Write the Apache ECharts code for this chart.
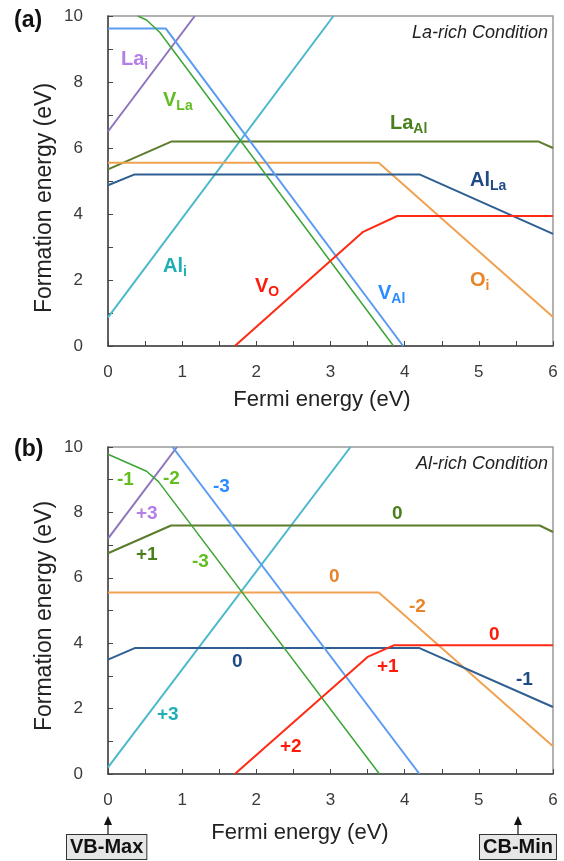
<!DOCTYPE html>
<html lang="en">
  <head>
    <meta charset="UTF-8" />
    <title>Formation energy vs Fermi energy</title>
    <script src="https://cdn.jsdelivr.net/npm/echarts@6.0.0/dist/echarts.min.js"></script>
    <style>
      html, body { margin: 0; padding: 0; background: #fff; }
    </style>
  </head>
  <body>
    <div id="main" style="width: 564px; height: 861px"></div>
    <script type="text/javascript">
      // x ticks / y ticks
      const xTicks = [0, 1, 2, 3, 4, 5, 6];
      const yTicks = [0, 2, 4, 6, 8, 10];

      // (a) La-rich condition, [Fermi energy, formation energy]
      const laI_a = [[0, 6.5], [1.17, 10]];
      const vLa_a = [[0.4, 10], [0.52, 9.88], [0.7, 9.5], [3.85, 0]];
      const vAl_a = [[0, 9.62], [0.78, 9.62], [3.98, 0]];
      const laAl_a = [[0, 5.35], [0.86, 6.2], [5.8, 6.2], [6, 6.0]];
      const alLa_a = [[0, 4.87], [0.36, 5.2], [4.2, 5.2], [6, 3.4]];
      const oI_a = [[0, 5.55], [3.65, 5.55], [6, 0.88]];
      const vO_a = [[1.71, 0], [3.44, 3.46], [3.9, 3.94], [6, 3.94]];
      const alI_a = [[0, 0.87], [3.04, 10]];

      // (b) Al-rich condition
      const laI_b = [[0, 7.2], [0.93, 10]];
      const vLa_b = [[0, 9.78], [0.52, 9.26], [0.68, 8.94], [3.66, 0]];
      const vAl_b = [[0.87, 10], [4.2, 0]];
      const laAl_b = [[0, 6.75], [0.85, 7.6], [5.82, 7.6], [6, 7.4]];
      const alLa_b = [[0, 3.5], [0.36, 3.85], [4.2, 3.85], [6, 2.05]];
      const oI_b = [[0, 5.55], [3.65, 5.55], [6, 0.85]];
      const vO_b = [[1.71, 0], [3.5, 3.58], [3.86, 3.94], [6, 3.94]];
      const alI_b = [[0, 0.2], [3.27, 10]];

      const FONT = 'Liberation Sans, Arial, sans-serif';
      const C = {
        laI: '#8f74bd', vLa: '#3ca535', vAl: '#5a9bf2', laAl: '#5b7d2c',
        alLa: '#2e5f92', oI: '#f0a252', vO: '#ff2a14', alI: '#4cb8cc'
      };
      const L = {
        laI: '#b37ee6', vLa: '#62bd22', vAl: '#2a8bff', laAl: '#4a7f1e',
        alLa: '#1e4b85', oI: '#e8842a', vO: '#ff1a0a', alI: '#1eaeb4'
      };

      const container = document.getElementById('main');
      const myChart = echarts.init(container, null, { width: 564, height: 861 });

      const makeX = (gridIndex) => ({
        type: 'value', gridIndex, min: 0, max: 6, interval: 1,
        axisLine: { lineStyle: { color: '#444', width: 1.5 } },
        axisTick: { inside: true, length: 5, lineStyle: { color: '#444' } },
        minorTick: { show: true, splitNumber: 2, length: 5, lineStyle: { color: '#444' } },
        splitLine: { show: false },
        axisLabel: { color: '#3a3a3a', fontSize: 17, fontFamily: FONT, margin: 18,
          formatter: (v) => (xTicks.includes(v) ? String(v) : '') }
      });
      const makeY = (gridIndex) => ({
        type: 'value', gridIndex, min: 0, max: 10, interval: 2,
        axisLine: { show: true, lineStyle: { color: '#444', width: 1.5 } },
        axisTick: { show: true, inside: true, length: 5, lineStyle: { color: '#444' } },
        minorTick: { show: true, splitNumber: 2, length: 5, lineStyle: { color: '#444' } },
        splitLine: { show: false },
        axisLabel: { color: '#3a3a3a', fontSize: 17, fontFamily: FONT, margin: 25,
          formatter: (v) => (yTicks.includes(v) ? String(v) : '') }
      });

      const line = (data, color, idx, width = 2) => ({
        type: 'line', data, xAxisIndex: idx, yAxisIndex: idx,
        symbol: 'none', clip: true, silent: true,
        lineStyle: { color, width }
      });

      const seriesA = [
        line(alI_a, C.alI, 0), line(laI_a, C.laI, 0), line(laAl_a, C.laAl, 0),
        line(oI_a, C.oI, 0), line(alLa_a, C.alLa, 0), line(vAl_a, C.vAl, 0),
        line(vLa_a, C.vLa, 0, 1.5), line(vO_a, C.vO, 0)
      ];
      const seriesB = [
        line(alI_b, C.alI, 1), line(laI_b, C.laI, 1), line(laAl_b, C.laAl, 1),
        line(oI_b, C.oI, 1), line(alLa_b, C.alLa, 1), line(vAl_b, C.vAl, 1),
        line(vLa_b, C.vLa, 1, 1.5), line(vO_b, C.vO, 1)
      ];

      // subscripted defect names
      const rich = {
        m: { fontSize: 20, fontWeight: 'bold', fontFamily: FONT },
        s: { fontSize: 14, fontWeight: 'bold', fontFamily: FONT, padding: [12, 0, 0, 0] }
      };
      const sub = (x, y, main, s, fill) => ({
        type: 'text', x, y, silent: true,
        style: { text: '{m|' + main + '}{s|' + s + '}', fill, rich: {
          m: Object.assign({ fill }, rich.m), s: Object.assign({ fill }, rich.s) } }
      });
      const chg = (x, y, text, fill) => ({
        type: 'text', x, y, silent: true,
        style: { text, fill, font: 'bold 19px ' + FONT }
      });
      const plain = (x, y, text, font, extra = {}) => ({
        type: 'text', x, y, silent: true,
        style: Object.assign({ text, fill: '#222', font }, extra)
      });

      const option = {
        animation: false,
        backgroundColor: '#fff',
        grid: [
          { left: 108, top: 16, width: 445, height: 330, show: true,
            borderColor: '#999', borderWidth: 1.5 },
          { left: 108, top: 447, width: 445, height: 327, show: true,
            borderColor: '#999', borderWidth: 1.5 }
        ],
        xAxis: [makeX(0), makeX(1)],
        yAxis: [makeY(0), makeY(1)],
        series: seriesA.concat(seriesB),
        graphic: [
          plain(14, 9, '(a)', 'bold 23px ' + FONT, { fill: '#111' }),
          plain(14, 438, '(b)', 'bold 23px ' + FONT, { fill: '#111' }),
          plain(548, 24, 'La-rich Condition', 'italic 18px ' + FONT, { align: 'right' }),
          plain(548, 455, 'Al-rich Condition', 'italic 18px ' + FONT, { align: 'right' }),
          plain(322, 389, 'Fermi energy (eV)', '22px ' + FONT, { align: 'center' }),
          plain(300, 822, 'Fermi energy (eV)', '22px ' + FONT, { align: 'center' }),
          { type: 'text', x: 33, y: 198, rotation: Math.PI / 2, silent: true,
            style: { text: 'Formation energy (eV)', font: '23px ' + FONT, fill: '#222',
              align: 'center', verticalAlign: 'top' } },
          { type: 'text', x: 33, y: 616, rotation: Math.PI / 2, silent: true,
            style: { text: 'Formation energy (eV)', font: '23px ' + FONT, fill: '#222',
              align: 'center', verticalAlign: 'top' } },

          // (a) labels
          sub(121, 46, 'La', 'i', L.laI),
          sub(163, 87, 'V', 'La', L.vLa),
          sub(390, 110, 'La', 'Al', L.laAl),
          sub(470, 167, 'Al', 'La', L.alLa),
          sub(163, 253, 'Al', 'i', L.alI),
          sub(255, 273, 'V', 'O', L.vO),
          sub(378, 280, 'V', 'Al', L.vAl),
          sub(470, 267, 'O', 'i', L.oI),

          // (b) charge states
          chg(117, 470, '-1', L.vLa),
          chg(163, 469, '-2', L.vLa),
          chg(213, 477, '-3', L.vAl),
          chg(136, 504, '+3', L.laI),
          chg(136, 545, '+1', L.laAl),
          chg(192, 552, '-3', L.vLa),
          chg(392, 504, '0', L.laAl),
          chg(329, 567, '0', L.oI),
          chg(409, 597, '-2', L.oI),
          chg(489, 625, '0', L.vO),
          chg(516, 670, '-1', L.alLa),
          chg(377, 657, '+1', L.vO),
          chg(280, 737, '+2', L.vO),
          chg(232, 652, '0', L.alLa),
          chg(157, 705, '+3', L.alI),

          // band edge markers
          { type: 'line', silent: true, shape: { x1: 108, y1: 835, x2: 108, y2: 823 },
            style: { stroke: '#111', lineWidth: 1.2 } },
          { type: 'polygon', silent: true, shape: { points: [[108, 816], [104, 825], [112, 825]] },
            style: { fill: '#111' } },
          { type: 'line', silent: true, shape: { x1: 518, y1: 835, x2: 518, y2: 823 },
            style: { stroke: '#111', lineWidth: 1.2 } },
          { type: 'polygon', silent: true, shape: { points: [[518, 816], [514, 825], [522, 825]] },
            style: { fill: '#111' } },
          plain(67, 835, 'VB-Max', 'bold 20px ' + FONT, { fill: '#111',
            backgroundColor: '#e6e6e6', borderColor: '#333', borderWidth: 1, padding: [2, 3, 2, 3] }),
          plain(480, 835, 'CB-Min', 'bold 20px ' + FONT, { fill: '#111',
            backgroundColor: '#e6e6e6', borderColor: '#333', borderWidth: 1, padding: [2, 3, 2, 3] })
        ]
      };

      myChart.setOption(option);
    </script>
  </body>
</html>
